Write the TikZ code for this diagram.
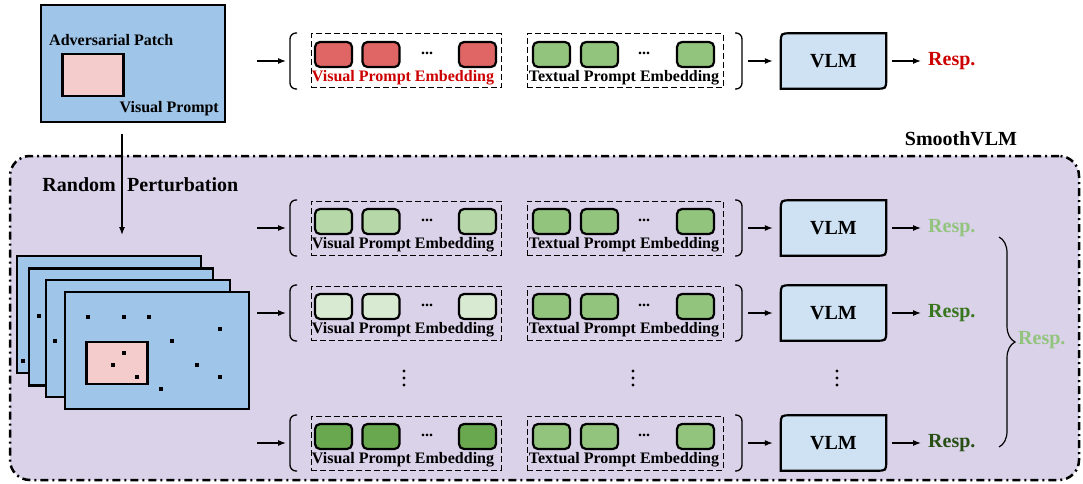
\documentclass[tikz,border=0pt]{standalone}
\usepackage{fontspec}
\setmainfont{Liberation Serif}
\usetikzlibrary{arrows.meta,decorations.pathreplacing}
\definecolor{imgblue}{HTML}{9FC5E8}
\definecolor{patchpink}{HTML}{F4CCCC}
\definecolor{smoothbg}{HTML}{D9D2E9}
\definecolor{vlmblue}{HTML}{CFE2F3}
\definecolor{tokred}{HTML}{E06666}
\definecolor{tokgreen}{HTML}{93C47D}
\definecolor{tokpale}{HTML}{B6D7A8}
\definecolor{tokpaler}{HTML}{D9EAD3}
\definecolor{tokdark}{HTML}{6AA84F}
\definecolor{respred}{HTML}{CC0000}
\definecolor{resplight}{HTML}{93C47D}
\definecolor{respmid}{HTML}{38761D}
\definecolor{respdark}{HTML}{274E13}
\newcommand{\vlmshape}[1]{%
  \draw[line width=2.2pt, fill=vlmblue]
    ([yshift=-10pt]#1.north west) .. controls (#1.north west) .. ([xshift=10pt]#1.north west)
    -- (#1.north east)
    -- ([yshift=10pt]#1.south east) .. controls (#1.south east) .. ([xshift=-10pt]#1.south east)
    -- (#1.south west) -- cycle;
  \node[big] (#1-t) at (#1) {VLM};}
\begin{document}
\begin{tikzpicture}
[x=1pt, y=-1pt,
 every node/.style={font=\bfseries\fontsize{16}{18}\selectfont, inner sep=0pt},
 big/.style={font=\bfseries\fontsize{20}{24}\selectfont},
 smoothbox/.style={draw, fill=smoothbg, line width=2.5pt, rounded corners=20pt,
   dash pattern=on 8pt off 4pt on 2pt off 4pt, minimum width=1069pt, minimum height=324pt},
 img/.style={draw, fill=imgblue, line width=2.2pt, minimum width=184pt, minimum height=117pt},
 patch/.style={draw, fill=patchpink, line width=2.2pt, minimum width=61pt, minimum height=42pt},
 tok/.style={draw, line width=2.2pt, rounded corners=5pt, minimum width=37pt, minimum height=25pt},
 embbox/.style={draw, line width=1pt, dash pattern=on 6pt off 3pt, minimum height=54pt},
 bracket/.style={line width=1.3pt, rounded corners=6pt},
 vlmbox/.style={minimum width=105pt, minimum height=55pt},
 arr/.style={-{Latex[length=8pt,width=6pt]}, line width=1.2pt}]
\useasboundingbox (0,0) rectangle (1083,484);

\node[smoothbox] (svlm) at (544.5,318) {};
\node[big] (svlm-t) at (961,139) {SmoothVLM};

\node[img] (img0) at (133,63.5) {};
\node[patch] (patch0) at (93,75) {};
\node[anchor=west] (advp) at (49,40) {Adversarial Patch};
\node[anchor=east] (visp) at (219,109) {Visual Prompt};

\coordinate (pa) at (122,134);
\coordinate (pb) at (122,235);
\draw[arr] (pa) -- (pb);
\node[big, anchor=east] (rand) at (116,184.5) {Random};
\node[big, anchor=west] (pert) at (127,184.5) {Perturbation};

\node[img] (img1) at (109,314.5) {};
\node[img] (img2) at (121,327) {};
\node[img] (img3) at (138,338.5) {};
\node[img] (img4) at (157,350.5) {};
\node[patch] (patch4) at (117,363) {};
\foreach \x/\y in {88/317,124/317,149/317,220/329,172/341,124/353,113/365,197/365,137/377,220/377,161/389,39/316,55/341,23/361}
  \fill (\x-2.3,\y-2.3) rectangle ++(4.6,4.6);

\foreach \c/\vf/\lc/\rc/\n in {61/tokred/respred/respred/0, 228/tokpale/black/resplight/1, 313/tokpaler/black/respmid/2, 443/tokdark/black/respdark/3}
{
  \node[embbox, minimum width=190pt] (vis\n) at (406,\c) {};
  \node[embbox, minimum width=196pt] (txt\n) at (625,\c) {};
  \foreach \x [count=\k] in {333.5,381,477.5}
    \node[tok, fill=\vf] (v\n-\k) at (\x,\c-6.5) {};
  \foreach \x [count=\k] in {551.5,599.5,695.5}
    \node[tok, fill=tokgreen] (t\n-\k) at (\x,\c-6.5) {};
  \node (vd\n) at (427,\c-8) {...};
  \node (td\n) at (644,\c-8) {...};
  \node[text=\lc] (vl\n) at (403,\c+17) {Visual Prompt Embedding};
  \node (tl\n) at (624,\c+17) {Textual Prompt Embedding};
  \draw[bracket] (297,\c-28) -- (290,\c-28) -- (290,\c+28) -- (297,\c+28);
  \draw[bracket] (735,\c-28) -- (742,\c-28) -- (742,\c+28) -- (735,\c+28);
  \coordinate (in\n) at (257,\c);
  \coordinate (lb\n) at (286,\c);
  \coordinate (rb\n) at (748,\c);
  \draw[arr] (in\n) -- (lb\n);
  \node[vlmbox] (vlm\n) at (833.5,\c) {};
  \vlmshape{vlm\n}
  \node[big, text=\rc, anchor=west] (resp\n) at (928,\c) {Resp.};
  \draw[arr, shorten >=8pt] (rb\n) -- (vlm\n);
  \draw[arr, shorten <=6pt, shorten >=7pt] (vlm\n) -- (resp\n);
}

\foreach \x in {404,633,837}
  \foreach \y in {371,378,385}
    \fill (\x,\y) circle (1.6pt);

\draw[decorate, decoration={brace, amplitude=16pt}, line width=1.2pt] (999,237) -- (999,447);
\node[big, text=resplight, anchor=west] (respall) at (1018,340) {Resp.};
\end{tikzpicture}
\end{document}
